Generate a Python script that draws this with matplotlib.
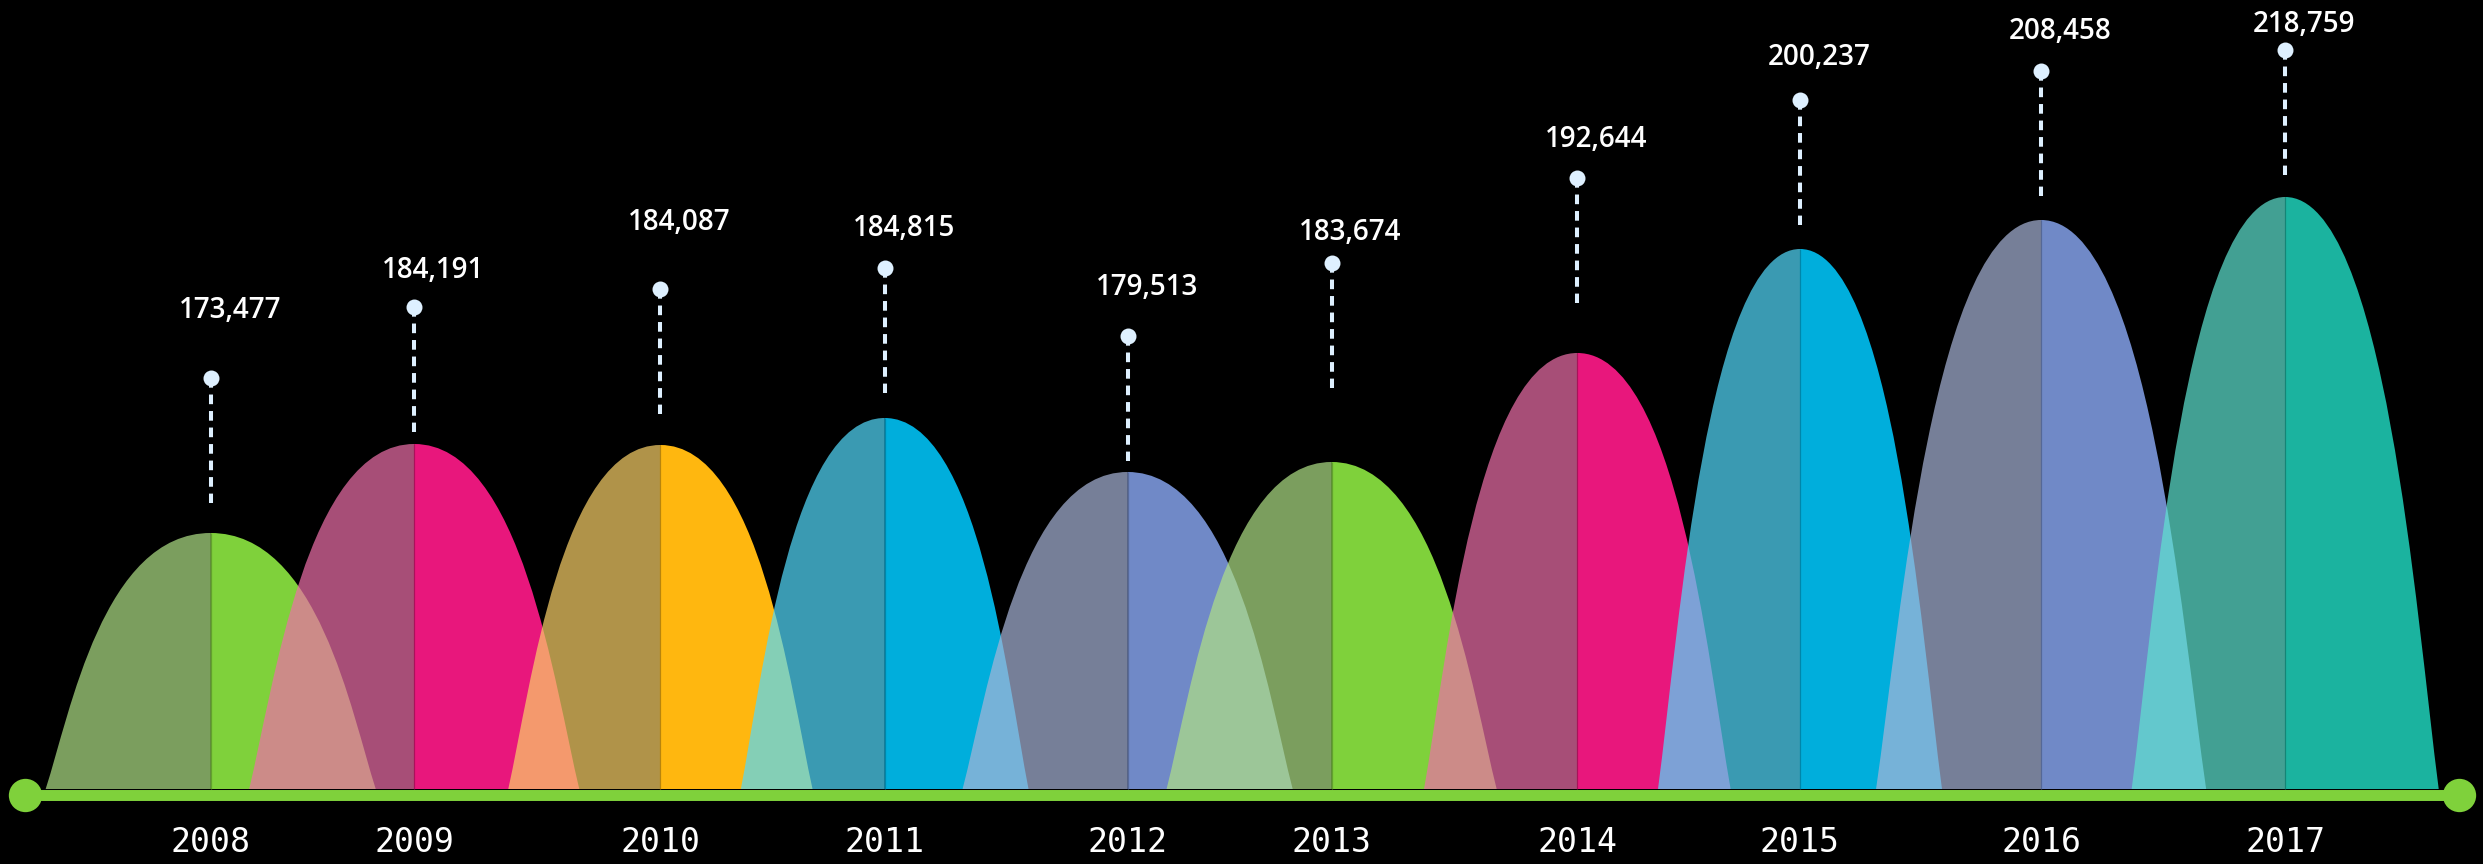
import numpy as np
import matplotlib
matplotlib.use("Agg")
import matplotlib.pyplot as plt
from matplotlib.path import Path
from matplotlib.patches import PathPatch
from matplotlib.colors import to_rgb

# ---------------- data ----------------
years = [2008, 2009, 2010, 2011, 2012, 2013, 2014, 2015, 2016, 2017]
values = [173477, 184191, 184087, 184815, 179513, 183674, 192644, 200237, 208458, 218759]
# horizontal position of each column on the time axis (years)
year_pos = [2008.000, 2008.883, 2009.951, 2010.924, 2011.978,
            2012.863, 2013.929, 2014.895, 2015.941, 2017.000]
# half width of each curved column (years)
half_width = [0.716, 0.716, 0.660, 0.624, 0.716, 0.716, 0.665, 0.616, 0.716, 0.666]
# column heights, pin heights, label heights (chart units)
peak_height = [256, 345, 344, 371, 317, 327, 436, 540, 569, 592]
pin_height = [411, 482, 500, 521, 453, 526, 611, 689, 718, 739]
label_height = [471, 511, 559, 553, 494, 549, 642, 724, 750, 757]

bright_colors = ['#7fd13b', '#e8177c', '#ffb70f', '#00aedc', '#7089c7',
                 '#7fd13b', '#e8177c', '#00aedc', '#7089c7', '#1bb39f']
muted_colors = ['#7c9f5f', '#a84f78', '#b1944a', '#3a9bb3', '#778099',
                '#7c9f5f', '#a84f78', '#3a9bb3', '#778099', '#43a194']

# ---------------- style ----------------
W, H, DPI = 2483, 864, 100
BG = '#000000'
AXIS_GREEN = '#7fd13b'
PIN_COLOR = '#def0ff'
LEFT_ALPHA = 0.71
PX_PER_YEAR = 230.5
X0_PX = 210.7
BASE_PX = 789
PIN_LEN = 125

fig = plt.figure(figsize=(W / DPI, H / DPI), dpi=DPI, facecolor=BG)
ax = fig.add_axes([0, 0, 1, 1])
ax.set_facecolor(BG)
ax.set_xlim(years[0] - X0_PX / PX_PER_YEAR, years[0] + (W - X0_PX) / PX_PER_YEAR)
ax.set_ylim(-(H - BASE_PX), BASE_PX)
ax.axis('off')

def left_path(c, hw, h):
    verts = [(c - hw, 0), (c - hw + 0.15 * hw, 0.30 * h), (c - hw + 0.35 * hw, h), (c, h),
             (c, 0), (c - hw, 0)]
    codes = [Path.MOVETO, Path.CURVE4, Path.CURVE4, Path.CURVE4, Path.LINETO, Path.CLOSEPOLY]
    return Path(verts, codes)

def right_path(c, hw, h):
    verts = [(c, 0), (c, h), (c + 0.65 * hw, h), (c + 0.85 * hw, 0.30 * h), (c + hw, 0),
             (c, 0)]
    codes = [Path.MOVETO, Path.LINETO, Path.CURVE4, Path.CURVE4, Path.CURVE4, Path.CLOSEPOLY]
    return Path(verts, codes)

for i, yr in enumerate(years):
    c, hw, h = year_pos[i], half_width[i], peak_height[i]
    m = np.array(to_rgb(muted_colors[i])) / LEFT_ALPHA
    m = np.clip(m, 0, 1)
    ax.add_patch(PathPatch(left_path(c, hw, h), facecolor=m, alpha=LEFT_ALPHA,
                           edgecolor='none', lw=0, zorder=2 + i * 0.01))
    ax.add_patch(PathPatch(right_path(c, hw, h), facecolor=bright_colors[i],
                           edgecolor='none', lw=0, zorder=2 + i * 0.01 + 0.005))
    dark = np.array(to_rgb(bright_colors[i])) * 0.72
    ax.plot([c, c], [0, h], color=dark, lw=0.9, alpha=0.8, zorder=2 + i * 0.01 + 0.006,
            solid_capstyle='butt')

# baseline axis with end caps
x_start = years[0] - (X0_PX - 25) / PX_PER_YEAR
x_end = years[0] + (2459 - X0_PX) / PX_PER_YEAR
ax.plot([x_start, x_end], [-5.5, -5.5], color=AXIS_GREEN, lw=7.9,
        solid_capstyle='butt', zorder=5)
ax.plot([x_start, x_end], [-5.5, -5.5], 'o', color=AXIS_GREEN, ms=24, mew=0, zorder=6)

# pins and labels
for i, yr in enumerate(years):
    c = year_pos[i]
    top = pin_height[i]
    ax.plot([c, c], [top, top - PIN_LEN], color=PIN_COLOR, lw=2.9,
            linestyle=(0, (2.4, 1.7)), dash_capstyle='butt', zorder=7)
    ax.plot([c], [top], 'o', color=PIN_COLOR, ms=11.5, mew=0, zorder=8)
    ax.annotate(f"{values[i]:,}", xy=(c, label_height[i]), xytext=(13.7, 0),
                textcoords='offset points', ha='center', va='baseline',
                color='white', fontsize=20, fontweight='semibold',
                family=['Open Sans', 'DejaVu Sans'], zorder=9)
    ax.text(c, -62.7, str(yr), ha='center', va='baseline', color='white',
            fontsize=23.9, family='DejaVu Sans Mono', zorder=9)

fig.savefig('out.png', dpi=DPI, facecolor=BG)
